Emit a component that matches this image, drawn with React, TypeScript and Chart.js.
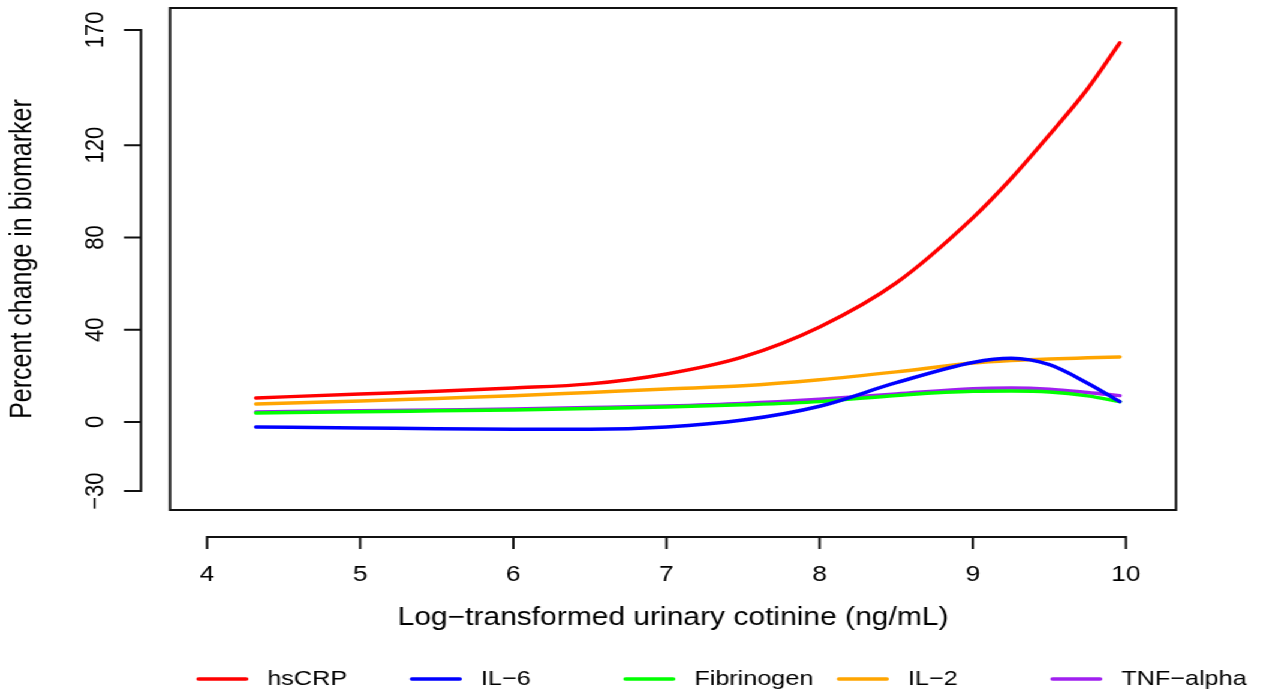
import React, { useEffect, useRef } from "react";
import { Chart, registerables } from "chart.js";

Chart.register(...registerables);

// ---- data ----
const cotinine = [4.32, 5, 5.5, 6, 6.5, 7, 7.5, 8, 8.5, 9, 9.25, 9.5, 9.75, 9.96];
const hsCRP = [10.4, 12.1, 13.3, 14.7, 16.5, 20.8, 28.2, 41.2, 60.3, 88.5, 105.5, 124.5, 144.5, 164.4];
const il6 = [-2.2, -2.6, -3.0, -3.2, -3.2, -2.2, 0.8, 6.8, 17.0, 25.8, 27.6, 24.8, 16.8, 8.8];
const fibrinogen = [3.9, 4.4, 4.8, 5.2, 5.8, 6.5, 7.4, 8.8, 11.5, 13.3, 13.4, 13.0, 11.3, 8.8];
const il2 = [7.8, 9.1, 10.2, 11.3, 12.8, 14.3, 15.7, 18.3, 21.7, 25.5, 26.6, 27.3, 27.8, 28.2];
const tnfAlpha = [4.3, 4.8, 5.2, 5.6, 6.2, 6.9, 8.0, 9.8, 12.1, 14.4, 14.7, 14.2, 12.8, 11.4];

const seriesNames = ["hsCRP", "IL\u22126", "Fibrinogen", "IL\u22122", "TNF\u2212alpha"];
const seriesColors = ["#FF0000", "#0000FF", "#00FF00", "#FFA500", "#A020F0"];
const seriesValues = [hsCRP, il6, fibrinogen, il2, tnfAlpha];

const xTicks = [4, 5, 6, 7, 8, 9, 10];
const yTicks = [-30, 0, 40, 80, 120, 170];

const xTitle = "Log\u2212transformed urinary cotinine (ng/mL)";
const yTitle = "Percent change in biomarker";

// ---- layout ----
const FULL_W = 1269;
const FULL_H = 692;
const CW = 1058; // logical canvas width, stretched horizontally to FULL_W
const STRETCH = FULL_W / CW;
const FONT = "'Liberation Sans', Arial, Helvetica, sans-serif";

const fmt = (v: number) => (v < 0 ? "\u2212" + Math.abs(v) : String(v));

const rStylePlugin = {
  id: "rStyle",
  afterDraw(chart: any) {
    const { ctx, chartArea: ca, scales } = chart;
    const x = scales.x;
    const y = scales.y;
    ctx.save();
    ctx.strokeStyle = "#111";
    ctx.lineWidth = 2;
    ctx.lineCap = "butt";
    // plot box
    ctx.strokeRect(ca.left, ca.top, ca.right - ca.left, ca.bottom - ca.top);
    // detached y axis
    const yx = ca.left - 24.2;
    ctx.beginPath();
    ctx.moveTo(yx, y.getPixelForValue(yTicks[0]));
    ctx.lineTo(yx, y.getPixelForValue(yTicks[yTicks.length - 1]));
    yTicks.forEach((v) => {
      const py = y.getPixelForValue(v);
      ctx.moveTo(yx + 1, py);
      ctx.lineTo(yx - 14.2, py);
    });
    // detached x axis
    const xy = ca.bottom + 27;
    ctx.moveTo(x.getPixelForValue(xTicks[0]), xy);
    ctx.lineTo(x.getPixelForValue(xTicks[xTicks.length - 1]), xy);
    xTicks.forEach((v) => {
      const px = x.getPixelForValue(v);
      ctx.moveTo(px, xy - 1);
      ctx.lineTo(px, xy + 12);
    });
    ctx.stroke();

    // legend (R style, equal columns)
    const ly = 679;
    const startX = 165.4;
    const colW = 178.0;
    const lineLen = 40;
    ctx.font = `21px ${FONT}`;
    ctx.textBaseline = "middle";
    ctx.textAlign = "left";
    chart.data.datasets.forEach((ds: any, i: number) => {
      const lx = startX + i * colW;
      ctx.beginPath();
      ctx.strokeStyle = ds.borderColor;
      ctx.lineWidth = 3.5;
      ctx.lineCap = "round";
      ctx.moveTo(lx, ly);
      ctx.lineTo(lx + lineLen, ly);
      ctx.stroke();
      ctx.fillStyle = "#000";
      ctx.fillText(ds.label, lx + lineLen + 17.5, ly);
    });
    ctx.restore();
  },
};

export default function App() {
  const canvasRef = useRef<HTMLCanvasElement | null>(null);

  useEffect(() => {
    document.body.style.overflow = "hidden";
    const canvas = canvasRef.current;
    if (!canvas) return;
    const datasets = seriesValues.map((vals, i) => ({
      label: seriesNames[i],
      data: cotinine.map((c, j) => ({ x: c, y: vals[j] })),
      borderColor: seriesColors[i],
      backgroundColor: seriesColors[i],
      borderWidth: 3.5,
      borderCapStyle: "round" as const,
      borderJoinStyle: "round" as const,
      pointRadius: 0,
      cubicInterpolationMode: "monotone" as const,
      fill: false,
    }));

    const chart = new Chart(canvas, {
      type: "line",
      data: { datasets },
      plugins: [rStylePlugin],
      options: {
        responsive: false,
        animation: false,
        devicePixelRatio: 1,
        layout: { padding: { left: 0, top: 8, right: CW - 980.5, bottom: 59 } },
        plugins: { legend: { display: false }, tooltip: { enabled: false } },
        scales: {
          x: {
            type: "linear",
            position: "bottom",
            min: 3.758,
            max: 10.327,
            grid: { display: false, drawTicks: false },
            border: { display: false },
            afterBuildTicks: (scale: any) => {
              scale.ticks = xTicks.map((v) => ({ value: v }));
            },
            afterFit: (scale: any) => {
              scale.height = 123;
              scale.paddingLeft = 0;
              scale.paddingRight = 0;
            },
            ticks: {
              padding: 51.8,
              maxRotation: 0,
              minRotation: 0,
              autoSkip: false,
              color: "#000",
              font: { family: FONT, size: 22 },
              callback: (v: any) => fmt(Number(v)),
            },
            title: {
              display: true,
              text: xTitle,
              color: "#000",
              font: { family: FONT, size: 25 },
              padding: { top: 0, bottom: 0 },
            },
          },
          y: {
            type: "linear",
            position: "left",
            min: -38.2,
            max: 179.5,
            grid: { display: false, drawTicks: false },
            border: { display: false },
            afterBuildTicks: (scale: any) => {
              scale.ticks = yTicks.map((v) => ({ value: v }));
            },
            afterFit: (scale: any) => {
              scale.width = 141.7;
              scale.paddingTop = 0;
              scale.paddingBottom = 0;
            },
            ticks: {
              padding: 43.6,
              minRotation: 90,
              maxRotation: 90,
              crossAlign: "center",
              autoSkip: false,
              color: "#000",
              font: { family: FONT, size: 22 },
              callback: (v: any) => fmt(Number(v)),
            },
            title: {
              display: true,
              text: yTitle,
              color: "#000",
              font: { family: FONT, size: 25 },
              padding: { top: 4, bottom: 0 },
            },
          },
        },
      },
    });
    return () => chart.destroy();
  }, []);

  return (
    <div
      style={{
        position: "absolute",
        left: 0,
        top: 0,
        width: CW,
        height: FULL_H,
        transform: `scaleX(${STRETCH})`,
        transformOrigin: "0 0",
        background: "#fff",
      }}
    >
      <canvas ref={canvasRef} width={CW} height={FULL_H} />
    </div>
  );
}
